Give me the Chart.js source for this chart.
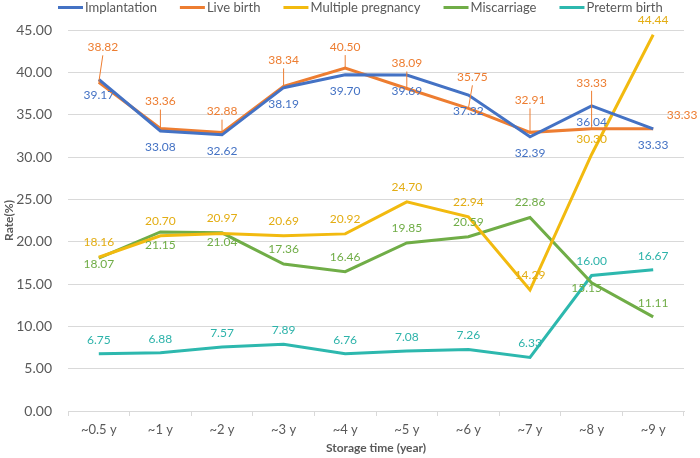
<!DOCTYPE html>
<html>
<head>
<meta charset="utf-8">
<script src="https://cdn.jsdelivr.net/npm/chart.js@4.4.1/dist/chart.umd.min.js"></script>
<style>
  html, body { margin: 0; padding: 0; background: #fff; }
  #wrap { width: 700px; height: 458px; }
</style>
</head>
<body>
<div id="wrap"><canvas id="rateChart"></canvas></div>
<script>
const storageTimes = ["~0.5 y", "~1 y", "~2 y", "~3 y", "~4 y", "~5 y", "~6 y", "~7 y", "~8 y", "~9 y"];
const implantation = [39.17, 33.08, 32.62, 38.19, 39.70, 39.69, 37.32, 32.39, 36.04, 33.33];
const liveBirth = [38.82, 33.36, 32.88, 38.34, 40.50, 38.09, 35.75, 32.91, 33.33, 33.33];
const multiplePregnancy = [18.16, 20.70, 20.97, 20.69, 20.92, 24.70, 22.94, 14.29, 30.30, 44.44];
const miscarriage = [18.07, 21.15, 21.04, 17.36, 16.46, 19.85, 20.59, 22.86, 15.15, 11.11];
const pretermBirth = [6.75, 6.88, 7.57, 7.89, 6.76, 7.08, 7.26, 6.33, 16.00, 16.67];
const yTicks = [0, 5, 10, 15, 20, 25, 30, 35, 40, 45];

// label placement (pixels from the point), like the hand-moved excel labels
const labelShift = {
  implantation: storageTimes.map(() => [0, 16]),
  liveBirth: [[4, -35], [0, -27], [0, -21], [0, -26], [0, -21], [0, -25], [4, -31], [0, -32], [0, -46], [29, -14]],
  multiplePregnancy: storageTimes.map(() => [0, -15]),
  miscarriage: [[0, 6], [0, 13], [0, 9], [0, -15], [0, -15], [0, -15], [0, -15], [0, -15], [-5, 5], [0, -14]],
  pretermBirth: storageTimes.map(() => [0, -14]),
};

const FONT = "Lato, 'Liberation Sans', sans-serif";
const GREY = "#595959";

function series(label, data, color, textColor, key, leader) {
  return {
    label: label,
    data: data,
    borderColor: color,
    backgroundColor: color,
    borderWidth: 3,
    pointRadius: 0,
    pointHoverRadius: 0,
    tension: 0,
    textColor: textColor,
    shiftKey: key,
    leader: leader,
  };
}

const pointLabels = {
  id: "pointLabels",
  afterDatasetsDraw(chart) {
    const ctx = chart.ctx;
    ctx.save();
    ctx.font = "12px " + FONT;
    ctx.textAlign = "center";
    ctx.textBaseline = "middle";
    chart.data.datasets.forEach((ds, i) => {
      const meta = chart.getDatasetMeta(i);
      meta.data.forEach((pt, j) => {
        const s = labelShift[ds.shiftKey][j];
        const txt = ds.data[j].toFixed(2);
        const cx = pt.x + s[0];
        const cy = pt.y + s[1];
        if (ds.leader && Math.abs(s[1]) > 15) {
          ctx.strokeStyle = ds.borderColor;
          ctx.lineWidth = 1;
          ctx.beginPath();
          if (s[0] > 15) {
            const w = ctx.measureText(txt).width;
            ctx.moveTo(pt.x, pt.y);
            ctx.lineTo(cx - w / 2 - 6, cy);
            ctx.lineTo(cx - w / 2 - 2, cy);
          } else {
            ctx.moveTo(pt.x, pt.y);
            ctx.lineTo(cx, cy + 8);
          }
          ctx.stroke();
        }
        ctx.fillStyle = ds.textColor;
        ctx.fillText(txt, cx, cy);
      });
    });
    ctx.restore();
  },
};

// excel style legend: short thick line, tight text, wide gaps
const lineLegend = {
  id: "lineLegend",
  afterDraw(chart) {
    const ctx = chart.ctx;
    const sets = chart.data.datasets;
    ctx.save();
    ctx.font = "13px " + FONT;
    ctx.textAlign = "left";
    ctx.textBaseline = "middle";
    const lineW = 25, gap = 2, space = 23;
    let x = 58;
    const y = 7.5;
    sets.forEach((ds) => {
      ctx.strokeStyle = ds.borderColor;
      ctx.lineWidth = 3;
      ctx.beginPath();
      ctx.moveTo(x, y);
      ctx.lineTo(x + lineW, y);
      ctx.stroke();
      ctx.fillStyle = GREY;
      ctx.fillText(ds.label, x + lineW + gap, y);
      x += lineW + gap + ctx.measureText(ds.label).width + space;
    });
    ctx.restore();
  },
};

const ctx = document.getElementById("rateChart").getContext("2d");
new Chart(ctx, {
  type: "line",
  data: {
    labels: storageTimes,
    datasets: [
      series("Implantation", implantation, "#4472C4", "#4472C4", "implantation", false),
      series("Live birth", liveBirth, "#ED7D31", "#ED7D31", "liveBirth", true),
      series("Multiple pregnancy", multiplePregnancy, "#F2BA0F", "#E3AD13", "multiplePregnancy", false),
      series("Miscarriage", miscarriage, "#70AD47", "#70AD47", "miscarriage", false),
      series("Preterm birth", pretermBirth, "#2DB8AE", "#2DB3AA", "pretermBirth", false),
    ],
  },
  options: {
    responsive: true,
    maintainAspectRatio: false,
    animation: false,
    layout: { padding: { top: 30, right: 16, bottom: 0, left: 2 } },
    plugins: {
      legend: { display: false },
      tooltip: { enabled: false },
    },
    scales: {
      x: {
        offset: true,
        afterFit(scale) {
          scale.height = 47;
        },
        grid: {
          offset: true,
          drawOnChartArea: false,
          drawTicks: true,
          tickLength: 5,
          color: "#D9D9D9",
        },
        border: { display: true, color: "#D9D9D9" },
        ticks: { color: GREY, font: { family: FONT, size: 13 }, padding: 6 },
        title: {
          display: true,
          text: "Storage time (year)",
          color: GREY,
          font: { family: FONT, size: 12, weight: "bold" },
          padding: { top: 0, bottom: 3 },
        },
      },
      y: {
        min: 0,
        max: 45,
        afterBuildTicks(scale) {
          scale.ticks = yTicks.map((v) => ({ value: v }));
        },
        afterFit(scale) {
          scale.width = 66;
        },
        grid: { color: "#D9D9D9", drawTicks: false },
        border: { display: false },
        ticks: {
          color: GREY,
          font: { family: FONT, size: 14 },
          padding: 16,
          callback: (v) => Number(v).toFixed(2),
        },
        title: {
          display: true,
          text: "Rate(%)",
          color: GREY,
          font: { family: FONT, size: 12, weight: "bold" },
          padding: { top: 0, bottom: 0 },
        },
      },
    },
  },
  plugins: [pointLabels, lineLegend],
});
</script>
</body>
</html>
